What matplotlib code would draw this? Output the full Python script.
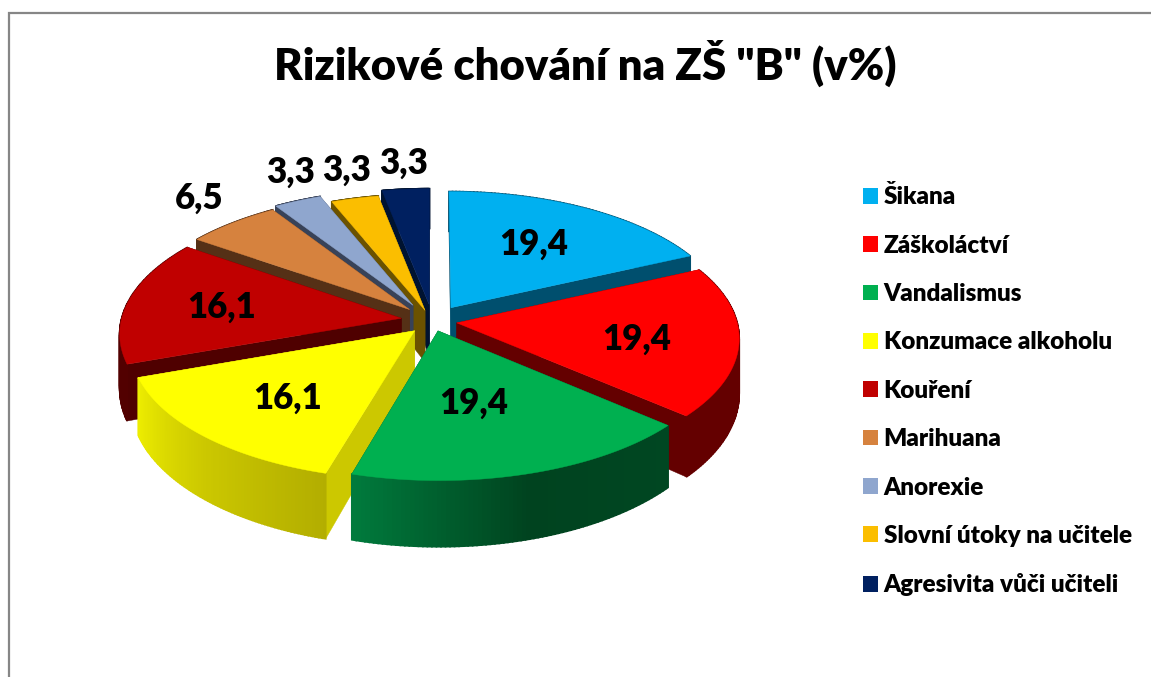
import matplotlib
matplotlib.use('Agg')
import matplotlib.pyplot as plt
from matplotlib.patches import Patch
import numpy as np

labels = ['Šikana', 'Záškoláctví', 'Vandalismus', 'Konzumace alkoholu', 'Kouření',
          'Marihuana', 'Anorexie', 'Slovní útoky na učitele', 'Agresivita vůči učiteli']
values = [19.4, 19.4, 19.4, 16.1, 16.1, 6.5, 3.3, 3.3, 3.3]
value_text = ['19,4', '19,4', '19,4', '16,1', '16,1', '6,5', '3,3', '3,3', '3,3']

top_colors = ['#00B0F0', '#FF0000', '#00B050', '#FFFF00', '#C00000',
              '#D6823E', '#8FA6CE', '#FBBE00', '#002060']
cut_colors = ['#004F6E', '#640000', '#004F24', '#CCC800', '#4F0000',
              '#553016', '#384258', '#6B5200', '#001330']
# colour of the outer wall, first stop is at the start angle of the slice
wall_colors = [['#004F6E'] * 3,
               ['#640000'] * 3,
               ['#004722', '#00431F', '#007A3C'],
               ['#B3AE00', '#CCC800', '#EDED00'],
               ['#520000'] * 3,
               ['#553016'] * 3,
               ['#384258'] * 3,
               ['#6B5200'] * 3,
               ['#001330'] * 3]
explode = [0.12, 0.1, 0.1, 0.1, 0.1, 0.1, 0.1, 0.1, 0.1]
# small pixel corrections per slice
shift_x = [3, -1, 0, 4, -1, -1, -4, 3, 2]
shift_y = [3, 3, 0, 3, 2, 1, -1, 5, 0]
label_r = [0.55, 0.65, 0.52, 0.63, 0.64, 1.17, 1.17, 1.14, 1.17]
label_dx = [9, -4, -9, 6, -5, -7, 6, 3, 3]
label_dy = [-3, 7, 1, 6, 2, -10, -14, -10, -9]

CX, CY = 430, 318
RX = 280


def project(px, py, z=0.0):
    sx = CX + RX * px * (1 - 0.11 * py)
    sy = CY - 133 * py + 14 * py ** 2 + z * (53 - 12 * py)
    return sx, sy


def hex2rgb(c):
    return np.array(matplotlib.colors.to_rgb(c))


def wall_color(stops, f):
    pos = np.linspace(0, 1, len(stops))
    rgb = [np.interp(f, pos, [hex2rgb(s)[k] for s in stops]) for k in range(3)]
    return tuple(rgb)


fig = plt.figure(figsize=(11.51, 6.77), dpi=100)
ax = fig.add_axes([0, 0, 1, 1])
ax.set_xlim(0, 1151)
ax.set_ylim(677, 0)
ax.axis('off')

# chart frame, right and bottom sides are cut off in the picture
ax.plot([9, 9, 1151], [677, 12.5, 12.5], color='#868686', lw=1.6, solid_joinstyle='miter')

total = sum(values)
edges = np.concatenate([[0], np.cumsum(values)]) / total * 2 * np.pi
mids = (edges[:-1] + edges[1:]) / 2
ox = [e * np.sin(m) for e, m in zip(explode, mids)]
oy = [e * np.cos(m) for e, m in zip(explode, mids)]

# back slices first
depth = [oy[i] + 0.6 * np.cos(mids[i]) for i in range(len(values))]
for i in np.argsort(depth)[::-1]:
    th = np.linspace(edges[i], edges[i + 1], 80)
    rim_x = ox[i] + np.sin(th)
    rim_y = oy[i] + np.cos(th)
    dx, dy = shift_x[i], shift_y[i]

    for k in (0, -1):
        a_t = project(ox[i], oy[i], 0)
        a_b = project(ox[i], oy[i], 1)
        r_t = project(rim_x[k], rim_y[k], 0)
        r_b = project(rim_x[k], rim_y[k], 1)
        ax.fill(np.array([a_t[0], r_t[0], r_b[0], a_b[0]]) + dx,
                np.array([a_t[1], r_t[1], r_b[1], a_b[1]]) + dy,
                color=cut_colors[i], lw=0.3)

    for k in range(len(th) - 1):
        t0 = project(rim_x[k], rim_y[k], 0)
        t1 = project(rim_x[k + 1], rim_y[k + 1], 0)
        b1 = project(rim_x[k + 1], rim_y[k + 1], 1)
        b0 = project(rim_x[k], rim_y[k], 1)
        c = wall_color(wall_colors[i], k / (len(th) - 2))
        ax.fill(np.array([t0[0], t1[0], b1[0], b0[0]]) + dx,
                np.array([t0[1], t1[1], b1[1], b0[1]]) + dy, color=c, lw=1.2)

    tx, ty = project(np.concatenate([[ox[i]], rim_x]), np.concatenate([[oy[i]], rim_y]), 0)
    ax.fill(tx + dx, ty + dy, color=top_colors[i], lw=0.3)

for i in range(len(values)):
    lx, ly = project(ox[i] + label_r[i] * np.sin(mids[i]), oy[i] + label_r[i] * np.cos(mids[i]))
    ax.text(lx + label_dx[i], ly + label_dy[i], value_text[i], ha='center', va='center',
            fontsize=25, fontweight='heavy', family='Lato', color='black')

ax.text(585, 63, 'Rizikové chování na ZŠ "B" (v%)', ha='center', va='center', fontsize=31.4,
        fontweight='heavy', family='Lato', color='black')

handles = [Patch(facecolor=c, edgecolor='none') for c in top_colors]
ax.legend(handles, labels, loc='upper left', bbox_to_anchor=(856 / 1151, 1 - 178 / 677),
          bbox_transform=fig.transFigure, frameon=False, borderaxespad=0, borderpad=0.3,
          handlelength=0.62, handleheight=0.62, handletextpad=0.22, labelspacing=1.085,
          prop={'family': 'Lato', 'weight': 'heavy', 'size': 17.5})

fig.savefig('out.png', dpi=100)
